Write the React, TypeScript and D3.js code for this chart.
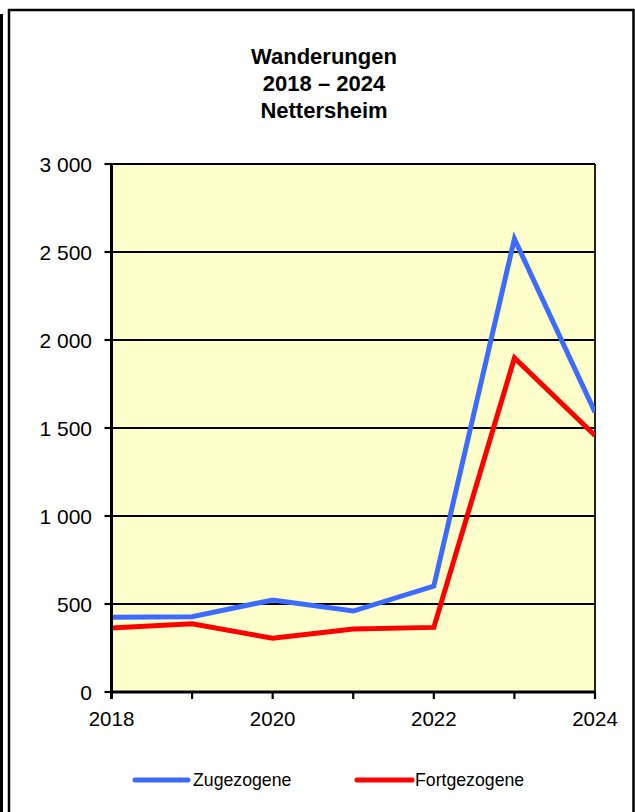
import React from "react";
import * as d3 from "d3";

const years = [2018, 2019, 2020, 2021, 2022, 2023, 2024];
const zugezogene = [425, 428, 523, 460, 602, 2575, 1590];
const fortgezogene = [364, 388, 305, 358, 367, 1898, 1458];
const yTicks = [0, 500, 1000, 1500, 2000, 2500, 3000];
const xLabelYears = [2018, 2020, 2022, 2024];
const titleLines = ["Wanderungen", "2018 – 2024", "Nettersheim"];
const seriesNames = ["Zugezogene", "Fortgezogene"];

const W = 635;
const H = 812;
const plot = { left: 111.5, right: 595, top: 164, bottom: 692 };
const FONT = "Arial, 'Liberation Sans', sans-serif";
const BLUE = "#3D6BFF";
const RED = "#FF0000";

const locale = d3.formatLocale({ decimal: ",", thousands: "\u00a0", grouping: [3], currency: ["", "€"] });
const fmt = locale.format(",d");

export default function App() {
  const x = d3.scaleLinear().domain([2018, 2024]).range([plot.left, plot.right]);
  const y = d3.scaleLinear().domain([0, 3000]).range([plot.bottom, plot.top]);
  const line = d3
    .line<number>()
    .x((_, i) => x(years[i]))
    .y((d) => y(d));

  const series = [
    { name: seriesNames[0], values: zugezogene, color: BLUE },
    { name: seriesNames[1], values: fortgezogene, color: RED },
  ];

  const legendItems = [
    { x1: 135, x2: 188, tx: 193, color: BLUE, name: seriesNames[0] },
    { x1: 357, x2: 412, tx: 415, color: RED, name: seriesNames[1] },
  ];

  return (
    <svg
      width={W}
      height={H}
      style={{ position: "absolute", left: 0, top: 0, background: "#fff" }}
      fontFamily={FONT}
    >
      <defs>
        <clipPath id="plotClip">
          <rect x={plot.left} y={plot.top - 10} width={plot.right - plot.left} height={plot.bottom - plot.top + 10} />
        </clipPath>
      </defs>
      <rect x={0} y={0} width={W} height={H} fill="#fff" />
      {/* outer frame */}
      <rect x={0} y={14} width={3} height={H} fill="#000" />
      <rect x={9} y={10} width={624.5} height={H + 20} fill="none" stroke="#000" strokeWidth={2.5} />

      {/* title */}
      {titleLines.map((t, i) => (
        <text key={i} x={324} y={63.5 + i * 27} textAnchor="middle" fontWeight="bold" fontSize={22} fill="#000">
          {t}
        </text>
      ))}

      {/* plot background */}
      <rect x={plot.left} y={plot.top} width={plot.right - plot.left} height={plot.bottom - plot.top} fill="#FFFFCC" />

      {/* gridlines */}
      {yTicks.map((t) => (
        <line key={t} x1={plot.left} x2={plot.right} y1={y(t)} y2={y(t)} stroke="#000" strokeWidth={2.2} />
      ))}
      {/* right border */}
      <line x1={plot.right} x2={plot.right} y1={plot.top} y2={plot.bottom} stroke="#222" strokeWidth={2} />

      {/* series */}
      <g clipPath="url(#plotClip)">
        {series.map((s) => (
          <path key={s.name} d={line(s.values) || ""} fill="none" stroke={s.color} strokeWidth={5} strokeLinejoin="miter" />
        ))}
      </g>

      {/* axes */}
      <line x1={plot.left} x2={plot.left} y1={plot.top - 1} y2={plot.bottom + 7} stroke="#000" strokeWidth={3} />
      <line x1={plot.left - 1.5} x2={plot.right + 1} y1={plot.bottom} y2={plot.bottom} stroke="#000" strokeWidth={3} />

      {/* y ticks & labels */}
      {yTicks.map((t) => (
        <g key={t}>
          <line x1={plot.left - 7} x2={plot.left} y1={y(t)} y2={y(t)} stroke="#000" strokeWidth={2.2} />
          <text x={92} y={y(t) + 7.5} textAnchor="end" fontSize={21} fill="#000">
            {fmt(t)}
          </text>
        </g>
      ))}

      {/* x ticks & labels */}
      {years.map((yr) => (
        <line key={yr} x1={x(yr)} x2={x(yr)} y1={plot.bottom} y2={plot.bottom + 7} stroke="#000" strokeWidth={2.2} />
      ))}
      {xLabelYears.map((yr) => (
        <text key={yr} x={x(yr)} y={726} textAnchor="middle" fontSize={20.5} fill="#000">
          {yr}
        </text>
      ))}

      {/* legend */}
      {legendItems.map((l) => (
        <g key={l.name}>
          <line x1={l.x1} x2={l.x2} y1={780} y2={780} stroke={l.color} strokeWidth={5} strokeLinecap="round" />
          <text x={l.tx} y={786} fontSize={17.7} fill="#000">
            {l.name}
          </text>
        </g>
      ))}
    </svg>
  );
}
